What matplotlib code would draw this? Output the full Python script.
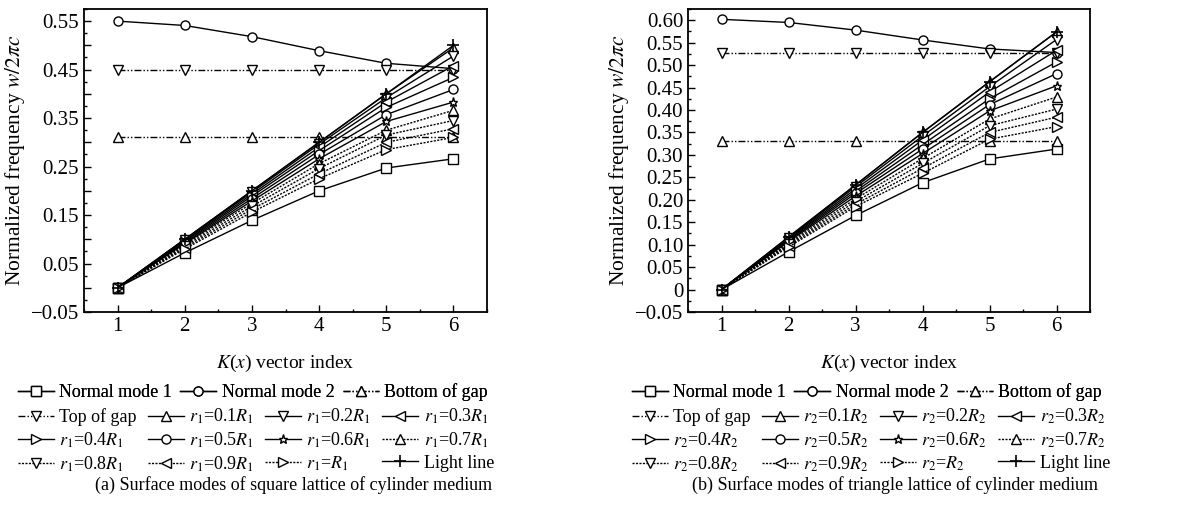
import matplotlib
matplotlib.use("Agg")
import matplotlib.pyplot as plt
from matplotlib.ticker import MultipleLocator, FuncFormatter

plt.rcParams['font.family'] = ['Liberation Serif', 'DejaVu Serif']
plt.rcParams['mathtext.fontset'] = 'stix'
plt.rcParams['font.size'] = 13

k = [1, 2, 3, 4, 5, 6]
ratios = ['0.1', '0.2', '0.3', '0.4', '0.5', '0.6', '0.7', '0.8', '0.9', '']

# (a) square lattice
a_mode1 = [0.0, 0.072, 0.139, 0.200, 0.247, 0.266]
a_mode2 = [0.550, 0.541, 0.518, 0.489, 0.463, 0.452]
a_bottom = [0.31, 0.31, 0.31, 0.31, 0.31, 0.31]
a_top = [0.45, 0.45, 0.45, 0.45, 0.45, 0.45]
a_light = [0.0, 0.1, 0.2, 0.3, 0.4, 0.5]
a_r = [
    [0.0, 0.100, 0.200, 0.300, 0.400, 0.495],
    [0.0, 0.099, 0.197, 0.296, 0.392, 0.478],
    [0.0, 0.097, 0.193, 0.290, 0.383, 0.458],
    [0.0, 0.095, 0.189, 0.283, 0.372, 0.434],
    [0.0, 0.093, 0.184, 0.275, 0.357, 0.409],
    [0.0, 0.091, 0.179, 0.266, 0.343, 0.383],
    [0.0, 0.089, 0.174, 0.256, 0.325, 0.366],
    [0.0, 0.086, 0.168, 0.246, 0.315, 0.345],
    [0.0, 0.083, 0.162, 0.235, 0.300, 0.328],
    [0.0, 0.080, 0.156, 0.225, 0.285, 0.310],
]

# (b) triangle lattice
b_mode1 = [0.0, 0.084, 0.165, 0.238, 0.291, 0.313]
b_mode2 = [0.602, 0.595, 0.578, 0.556, 0.536, 0.528]
b_bottom = [0.332, 0.332, 0.332, 0.332, 0.332, 0.332]
b_top = [0.527, 0.527, 0.527, 0.527, 0.527, 0.527]
b_light = [0.0, 0.117, 0.233, 0.350, 0.463, 0.574]
b_r = [
    [0.0, 0.117, 0.233, 0.350, 0.463, 0.574],
    [0.0, 0.115, 0.229, 0.342, 0.452, 0.557],
    [0.0, 0.113, 0.224, 0.333, 0.440, 0.533],
    [0.0, 0.111, 0.219, 0.323, 0.425, 0.507],
    [0.0, 0.109, 0.214, 0.313, 0.412, 0.481],
    [0.0, 0.107, 0.208, 0.303, 0.398, 0.454],
    [0.0, 0.104, 0.202, 0.292, 0.380, 0.429],
    [0.0, 0.101, 0.196, 0.281, 0.365, 0.402],
    [0.0, 0.098, 0.190, 0.270, 0.350, 0.384],
    [0.0, 0.095, 0.185, 0.259, 0.335, 0.363],
]

r_markers = ['^', 'v', '<', '>', 'o', '*', '^', 'v', '<', '>']
gap_ls = (0, (5, 1.5, 1, 1.5, 1, 1.5))
dot_ls = (0, (1.5, 1))
ms = 6.5


def draw(ax, mode1, mode2, bottom, top, light, rs, idx):
    mk = dict(markerfacecolor='white', markeredgecolor='black', markersize=ms, markeredgewidth=1)
    h = []
    h.append(ax.plot(k, mode1, '-', color='black', lw=1, marker='s', **mk)[0])
    h.append(ax.plot(k, mode2, '-', color='black', lw=1, marker='o', **mk)[0])
    h.append(ax.plot(k, bottom, linestyle=gap_ls, color='black', lw=1, marker='^', **mk)[0])
    h.append(ax.plot(k, top, linestyle=gap_ls, color='black', lw=1, marker='v', **mk)[0])
    for i, vals in enumerate(rs):
        ls = '-' if i < 6 else dot_ls
        h.append(ax.plot(k, vals, linestyle=ls, color='black', lw=1, marker=r_markers[i], **mk)[0])
    h.append(ax.plot(k, light, '-', color='black', lw=1, marker='+', markersize=9,
                     markeredgewidth=1.2)[0])
    labels = ['Normal mode 1', 'Normal mode 2', 'Bottom of gap', 'Top of gap']
    for r in ratios:
        labels.append(r'$r_%d$=%s$R_%d$' % (idx, r, idx))
    labels.append('Light line')

    ax.set_xlim(0.5, 6.5)
    ax.xaxis.set_major_locator(MultipleLocator(1))
    ax.xaxis.set_minor_locator(MultipleLocator(0.5))
    ax.tick_params(which='both', direction='in', top=False, right=False, width=1)
    ax.tick_params(which='major', length=5, labelsize=15)
    ax.tick_params(which='minor', length=2.5)
    for s in ax.spines.values():
        s.set_linewidth(1.3)
    ax.set_xlabel(r'$K$($x$) vector index', fontsize=14, labelpad=12)
    ax.set_ylabel(r'Normalized frequency $w/2\pi c$', fontsize=15.5, labelpad=3)
    return h, labels


fig = plt.figure(figsize=(11.81, 5.17), dpi=100)
ax1 = fig.add_axes([0.0711, 0.3965, 0.3413, 0.5861])
ax2 = fig.add_axes([0.5826, 0.3965, 0.3404, 0.5861])

h1, l1 = draw(ax1, a_mode1, a_mode2, a_bottom, a_top, a_light, a_r, 1)
h2, l2 = draw(ax2, b_mode1, b_mode2, b_bottom, b_top, b_light, b_r, 2)

ax1.set_ylim(-0.05, 0.575)
ax1.yaxis.set_major_locator(MultipleLocator(0.05))
ax1.yaxis.set_minor_locator(MultipleLocator(0.025))


def odd_fmt(v, pos):
    n = int(round(v / 0.05))
    if n % 2 == 0:
        return ''
    return ('%.2f' % v).replace('-', '\u2212')


ax1.yaxis.set_major_formatter(FuncFormatter(odd_fmt))

ax2.set_ylim(-0.05, 0.625)
ax2.yaxis.set_major_locator(MultipleLocator(0.05))
ax2.yaxis.set_minor_locator(MultipleLocator(0.025))


def fmt2(v, pos):
    if abs(v) < 1e-9:
        return '0'
    return ('%.2f' % v).replace('-', '\u2212')


ax2.yaxis.set_major_formatter(FuncFormatter(fmt2))


def add_legends(h, labels, x0, x1, cap):
    leg_a = fig.legend(h[:3], labels[:3], loc='upper left', bbox_to_anchor=(x0, 0.258),
                       ncol=3, frameon=False, handlelength=2.0, handletextpad=0.3,
                       columnspacing=0.45, fontsize=13, borderaxespad=0, borderpad=0)
    rest_h = h[3:]
    rest_l = labels[3:]
    order = [0, 4, 8, 1, 5, 9, 2, 6, 10, 3, 7, 11]
    leg_b = fig.legend([rest_h[i] for i in order], [rest_l[i] for i in order],
                       loc='upper left', bbox_to_anchor=(x0, 0.213), ncol=4, frameon=False,
                       handlelength=2.0, handletextpad=0.3, columnspacing=0.6, fontsize=13,
                       labelspacing=0.25, borderaxespad=0, borderpad=0)
    fig.add_artist(leg_a)
    fig.text(x1, 0.062, cap, ha='right', va='center', fontsize=13)


add_legends(h1, l1, 0.015, 0.4166, '(a) Surface modes of square lattice of cylinder medium')
add_legends(h2, l2, 0.535, 0.930, '(b) Surface modes of triangle lattice of cylinder medium')

fig.savefig('out.png', dpi=100, facecolor='white')
